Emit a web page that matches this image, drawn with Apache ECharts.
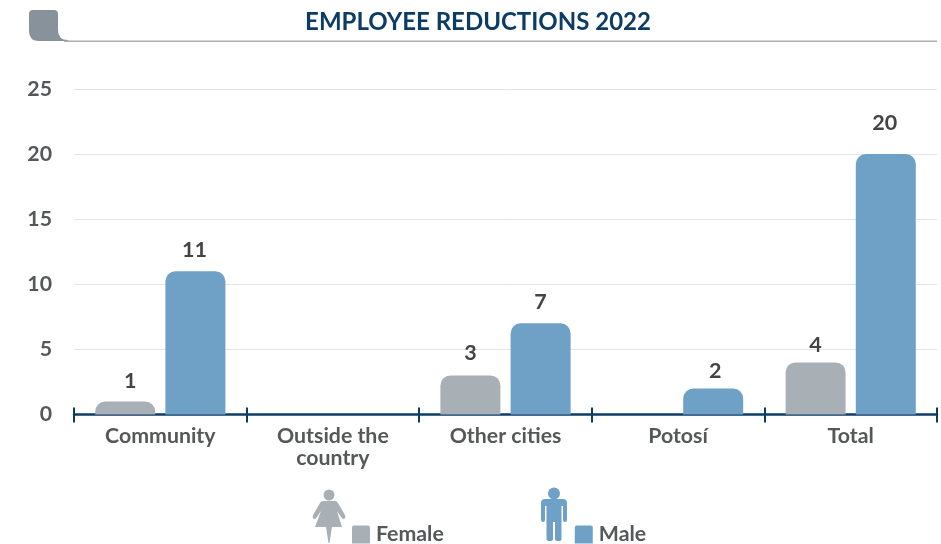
<!DOCTYPE html>
<html>
<head>
<meta charset="utf-8">
<style>html,body{margin:0;padding:0;background:#fff}#chart{width:941px;height:544px}</style>
<script src="https://cdn.jsdelivr.net/npm/echarts@6/dist/echarts.min.js"></script>
</head>
<body>
<div id="chart"></div>
<script>
const categories = ['Community', 'Outside the\ncountry', 'Other cities', 'Potosí', 'Total'];
const female = [1, 0, 3, 0, 4];
const male = [11, 0, 7, 2, 20];
const yTicks = { min: 0, max: 25, interval: 5 };
const titleText = 'EMPLOYEE REDUCTIONS 2022';

// Hand placement of the value labels: gap above the bar and sideways nudge, per category
const femaleLabelGap = [9, 0, 11, 0, 6];
const femaleLabelShift = [5, 0, 0, 0, 0];
const maleLabelGap = [10, 0, 10, 6, 20];
const maleLabelShift = [-1, 0, 0, 2, -1];

const FONT = 'Lato, Carlito, "Open Sans", sans-serif';
const GREY = '#a8b0b5';
const BLUE = '#6fa1c7';
const NAVY = '#0c3c66';
const TEXT = '#555759';

// Decorative outlines used by the header and the legend pictograms
const outlines = {
  headerTab: 'M33 10H54Q58 10 58 14V30Q58 40 68 40V41H39Q29 41 29 31V14Q29 10 33 10Z',
  femaleBody: 'M323 501H335Q337 501 338 503L345 515Q346 518 344 519Q342 519 341 517L337 511L342 527H332L329.5 543H328.5L326 527H315L321 511L317 517Q316 519 314 519Q312 518 313 515L320 503Q321 501 323 501Z',
  maleBody: 'M545 499H563Q567 499 567 503V520Q567 522 565 522Q563 522 563 520V506H561.5V539Q561.5 541 558.5 541Q555 541 555 539V522H553V539Q553 541 550 541Q546.5 541 546.5 539V506H545V520Q545 522 543 522Q541 522 541 520V503Q541 499 545 499Z'
};
Object.keys(outlines).forEach(name => {
  echarts.graphic.registerShape(name, echarts.graphic.extendPath(outlines[name], {}));
});

const valueLabel = {
  show: true,
  position: 'top',
  fontFamily: FONT,
  fontWeight: 'bold',
  fontSize: 21.5,
  color: '#444444',
  formatter: p => (p.value === 0 ? '' : String(p.value))
};

// Attach the per-category label placement to each bar value
const labelled = (values, gaps, shifts) => values.map((value, i) => ({
  value,
  label: { distance: gaps[i], offset: [shifts[i], 0] }
}));

const chart = echarts.init(document.getElementById('chart'), null, { renderer: 'canvas' });
chart.setOption({
  animation: false,
  backgroundColor: '#ffffff',
  grid: { left: 74, right: 4, top: 89, bottom: 129.5 },
  xAxis: [
    {
      type: 'category',
      data: categories,
      axisLine: { lineStyle: { color: NAVY, width: 2.5 } },
      axisTick: { show: true, alignWithLabel: false, length: 8, lineStyle: { color: NAVY, width: 2 } },
      axisLabel: {
        fontFamily: FONT, fontWeight: 'bold', fontSize: 21.3, color: TEXT,
        margin: 10, lineHeight: 22.5, interval: 0
      }
    },
    {
      // Upper half of the tick marks, which cross the baseline
      type: 'category',
      data: categories,
      position: 'bottom',
      axisLine: { show: false },
      axisTick: { show: true, inside: true, length: 7, lineStyle: { color: NAVY, width: 2 } },
      axisLabel: { show: false }
    }
  ],
  yAxis: {
    type: 'value',
    min: yTicks.min,
    max: yTicks.max,
    interval: yTicks.interval,
    axisLine: { show: false },
    axisTick: { show: false },
    axisLabel: { fontFamily: FONT, fontWeight: 'bold', fontSize: 21.3, color: TEXT, margin: 22 },
    splitLine: { lineStyle: { color: '#e4e4e4', width: 1 } }
  },
  legend: {
    left: 352,
    top: 524,
    padding: 0,
    itemWidth: 18,
    itemHeight: 18,
    itemGap: 131,
    icon: 'path://M2 0H16Q18 0 18 2V18H0V2Q0 0 2 0Z',
    textStyle: { fontFamily: FONT, fontWeight: 'bold', fontSize: 21.3, color: TEXT, padding: [0, 0, 2, 1] },
    data: ['Female', 'Male']
  },
  series: [
    {
      name: 'Female', type: 'bar', data: labelled(female, femaleLabelGap, femaleLabelShift),
      barWidth: 60, barGap: '17%',
      itemStyle: { color: GREY, borderRadius: [10, 10, 0, 0] }, label: valueLabel
    },
    {
      name: 'Male', type: 'bar', data: labelled(male, maleLabelGap, maleLabelShift),
      barWidth: 60,
      itemStyle: { color: BLUE, borderRadius: [10, 10, 0, 0] }, label: valueLabel
    }
  ],
  graphic: [
    { type: 'headerTab', silent: true, style: { fill: '#87929a' } },
    { type: 'rect', silent: true, shape: { x: 64, y: 40.5, width: 873, height: 1.5 }, style: { fill: '#a9b0b5' } },
    {
      type: 'text', silent: true, x: 478, y: 22,
      style: {
        text: titleText, fontFamily: FONT, fontWeight: 'bold', fontSize: 24,
        fill: NAVY, textAlign: 'center', textVerticalAlign: 'middle'
      }
    },
    { type: 'circle', silent: true, shape: { cx: 329, cy: 495, r: 5.5 }, style: { fill: GREY } },
    { type: 'femaleBody', silent: true, style: { fill: GREY } },
    { type: 'circle', silent: true, shape: { cx: 554, cy: 493.5, r: 6 }, style: { fill: BLUE } },
    { type: 'maleBody', silent: true, style: { fill: BLUE } }
  ]
});
</script>
</body>
</html>
